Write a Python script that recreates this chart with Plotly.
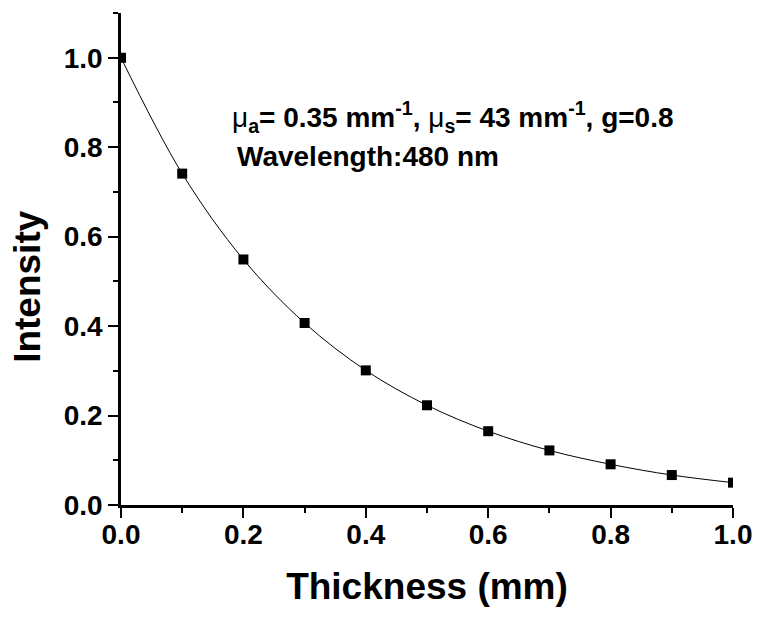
import plotly.graph_objects as go

thickness = [0.0, 0.1, 0.2, 0.3, 0.4, 0.5, 0.6, 0.7, 0.8, 0.9, 1.0]
intensity = [1.0, 0.741, 0.549, 0.407, 0.301, 0.223, 0.165, 0.122, 0.091, 0.067, 0.050]
x_ticks = [0.0, 0.2, 0.4, 0.6, 0.8, 1.0]
y_ticks = [0.0, 0.2, 0.4, 0.6, 0.8, 1.0]
x_title = "Thickness (mm)"
y_title = "Intensity"
note1 = ('<span style="font-weight:normal">μ</span><sub>a</sub>= 0.35 mm<sup>-1</sup>, '
         '<span style="font-weight:normal">μ</span><sub>s</sub>= 43 mm<sup>-1</sup>, g=0.8')
note2 = "Wavelength:480 nm"

FONT = "Arial, Liberation Sans, sans-serif"

fig = go.Figure()
fig.add_trace(go.Scatter(
    x=thickness, y=intensity, mode="lines+markers",
    line=dict(color="black", width=1, shape="spline"),
    marker=dict(symbol="square", size=10, color="black"),
    cliponaxis=True, showlegend=False,
))

axis_common = dict(
    showline=True, linecolor="black", linewidth=2.5,
    ticks="outside", ticklen=10, tickwidth=2, tickcolor="black",
    showgrid=False, zeroline=False, mirror=False,
    tickfont=dict(family=FONT, size=28, color="black", weight="bold"),
    automargin=False,
)

fig.update_xaxes(
    range=[0, 1.0], tickvals=x_ticks, ticktext=[f"{v:.1f}" for v in x_ticks],
    minor=dict(dtick=0.1, tick0=0, ticks="outside", ticklen=5, tickwidth=2, tickcolor="black"),
    ticklabelstandoff=-7,
    title=dict(text=x_title, font=dict(family=FONT, size=37, color="black", weight="bold"), standoff=24),
    **axis_common,
)
fig.update_yaxes(
    range=[0, 1.1001], tickvals=y_ticks, ticktext=[f"{v:.1f}" for v in y_ticks],
    minor=dict(dtick=0.1, tick0=0, ticks="outside", ticklen=5, tickwidth=2, tickcolor="black"),
    **axis_common,
)

fig.add_annotation(
    text=y_title, textangle=-90, xref="paper", yref="y", x=-0.152, y=0.49,
    xanchor="center", yanchor="middle", showarrow=False,
    font=dict(family=FONT, size=37, color="black", weight="bold"),
)
fig.add_annotation(
    text=note1, xref="x", yref="y", x=0.178, y=0.868, xanchor="left", yanchor="middle",
    showarrow=False, font=dict(family=FONT, size=28, color="black", weight="bold"),
)
fig.add_annotation(
    text=note2, xref="x", yref="y", x=0.186, y=0.779, xanchor="left", yanchor="middle",
    showarrow=False, font=dict(family=FONT, size=28, color="black", weight="bold"),
)

fig.update_layout(
    width=762, height=622,
    margin=dict(l=121, r=29, t=13, b=117),
    plot_bgcolor="white", paper_bgcolor="white",
)

fig.write_html("out.html", config={"displayModeBar": False},
               post_script="document.body.style.margin='0';")
